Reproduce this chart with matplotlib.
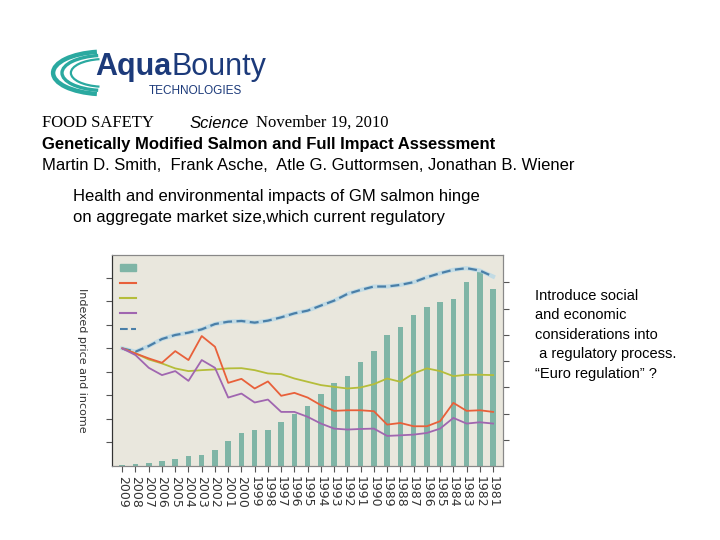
import matplotlib
matplotlib.use('Agg')
import matplotlib.pyplot as plt
from matplotlib.patches import Arc, Patch
from matplotlib.lines import Line2D

years = [str(y) for y in range(2009, 1980, -1)]

# production (right axis units)
production = [0.05, 0.06, 0.10, 0.18, 0.28, 0.37, 0.41, 0.62, 0.94, 1.27, 1.36, 1.36, 1.66, 1.97,
              2.29, 2.75, 3.16, 3.43, 3.97, 4.39, 4.99, 5.30, 5.75, 6.08, 6.27, 6.37, 7.03, 7.41, 6.75]
income = [100, 97.2, 102.0, 108.0, 111.4, 113.4, 116.2, 120.7, 122.7, 123.3, 121.9, 123.6, 126.4, 129.8,
          132.1, 136.4, 140.6, 146.3, 149.7, 152.6, 152.6, 154.0, 156.3, 160.5, 163.9, 166.8, 168.2, 166.2, 161.1]
price_red = [100, 95.7, 91.5, 87.8, 97.7, 90.1, 110.5, 101.4, 70.7, 74.1, 65.9, 71.9, 59.7, 62.2,
             58.2, 51.7, 46.9, 47.4, 47.4, 46.6, 35.2, 36.6, 33.8, 33.8, 38.1, 53.7, 46.9, 47.4, 46.0]
price_yellow = [100, 95.7, 90.6, 87.2, 83.0, 80.7, 81.5, 82.1, 83.0, 83.2, 81.5, 78.7, 78.1, 74.4,
                71.6, 68.8, 67.3, 65.9, 66.8, 69.6, 74.4, 71.6, 78.7, 83.0, 80.7, 76.4, 77.6, 77.6, 77.3]
price_purple = [100, 94.3, 83.5, 77.3, 80.7, 72.4, 90.1, 83.5, 58.2, 61.6, 54.0, 56.5, 46.0, 46.0,
                41.8, 36.1, 31.8, 31.0, 31.5, 31.8, 25.6, 26.1, 26.7, 28.1, 31.8, 40.9, 36.1, 37.2, 36.1]

fig = plt.figure(figsize=(7.2, 5.4), dpi=100)

# logo
for i, r in enumerate([0.075, 0.062, 0.049]):
    fig.patches.append(Arc((0.145, 0.865), r * 1.9, r * 1.05, theta1=105, theta2=255,
                           transform=fig.transFigure, color='#2aa9a0', lw=3.2 - i * 0.8, figure=fig))
fig.text(0.132, 0.862, 'Aqua', fontsize=22, fontweight='bold', color='#1c3a7a',
         family='Liberation Sans', va='baseline')
fig.text(0.238, 0.862, 'Bounty', fontsize=22, color='#1c3a7a', family='Liberation Sans', va='baseline')
fig.text(0.207, 0.832, 'TECHNOLOGIES', fontsize=8.5, color='#1c3a7a', family='Liberation Sans', va='center')

fig.text(0.058, 0.772, 'FOOD SAFETY', fontsize=12, family='Liberation Serif', va='center')
fig.text(0.263, 0.772, 'Science', fontsize=12, style='italic', family='Liberation Sans', va='center')
fig.text(0.355, 0.772, 'November 19, 2010', fontsize=12, family='Liberation Serif', va='center')
fig.text(0.058, 0.732, 'Genetically Modified Salmon and Full Impact Assessment', fontsize=12,
         fontweight='bold', family='Liberation Sans', va='center')
fig.text(0.058, 0.693, 'Martin D. Smith,  Frank Asche,  Atle G. Guttormsen, Jonathan B. Wiener',
         fontsize=12, family='Liberation Sans', va='center')
fig.text(0.101, 0.637, 'Health and environmental impacts of GM salmon hinge', fontsize=12,
         family='Liberation Sans', va='center')
fig.text(0.101, 0.597, 'on aggregate market size,which current regulatory', fontsize=12,
         family='Liberation Sans', va='center')

side = ['Introduce social', 'and economic', 'considerations into', ' a regulatory process.',
        '\u201cEuro regulation\u201d ?']
for i, s in enumerate(side):
    fig.text(0.743, 0.452 - i * 0.036, s, fontsize=10.5, family='Liberation Sans', va='center')

ax = fig.add_axes([0.156, 0.137, 0.543, 0.391])
x = list(range(len(years)))
ax2 = ax.twinx()
ax2.bar(x, production, width=0.42, color='#7fb5a6')
ax2.set_ylim(0, 8.05)
ax2.set_yticks(range(1, 8))
ax2.set_yticklabels([])

ax.set_zorder(ax2.get_zorder() + 1)
ax.patch.set_visible(False)
ax2.patch.set_visible(True)
ax2.patch.set_facecolor('#e9e7dd')

ax.plot(x, income, color='#a8d4ea', lw=3, alpha=0.6)
ax.plot(x, income, color='#4a7fa8', lw=1.6, ls=(0, (4, 2)))
ax.plot(x, price_yellow, color='#b5bd3a', lw=1.3)
ax.plot(x, price_red, color='#e8603a', lw=1.3)
ax.plot(x, price_purple, color='#a066b0', lw=1.3)

ax.set_xlim(-0.75, 28.77)
ax.set_ylim(0, 179.5)
ax.set_yticks(range(20, 180, 20))
ax.set_yticklabels([])
ax.set_xticks(x)
ax.set_xticklabels(years, rotation=-90, fontsize=9, color='#333333')
ax.tick_params(axis='both', direction='out', length=4, color='#555555')
ax2.tick_params(axis='y', direction='out', length=4, color='#555555')
for a in (ax, ax2):
    for s in a.spines.values():
        s.set_color('#888888')
    a.spines['left'].set_color('#333333')
ax.set_ylabel('Indexed price and income', rotation=-90, fontsize=8, color='#333333', labelpad=18)

handles = [Patch(color='#7fb5a6'), Line2D([], [], color='#e8603a'), Line2D([], [], color='#b5bd3a'),
           Line2D([], [], color='#a066b0'), Line2D([], [], color='#4a7fa8', ls='--')]
ax.legend(handles, [''] * 5, loc='upper left', frameon=False, handlelength=1.6,
          labelspacing=0.55, fontsize=7, borderaxespad=0.4)

fig.savefig('out.png', dpi=100)
